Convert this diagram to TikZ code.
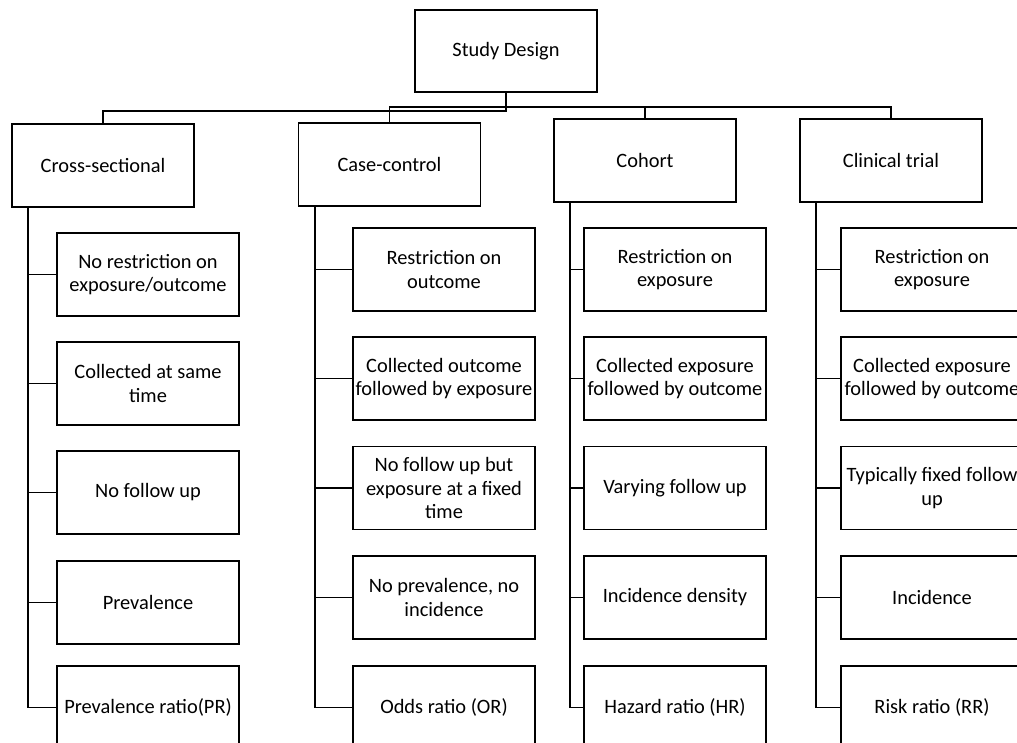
\documentclass[tikz,border=0pt]{standalone}
\usepackage{fontspec}
\setmainfont{Carlito}
\usepackage{tikz}
\usetikzlibrary{positioning}
\tikzstyle{designbox} = [rectangle, draw=black, line width=1.8pt, minimum width=182pt, minimum height=83pt, inner sep=0pt, text centered, align=center, font=\fontsize{20.4}{23.5}\selectfont]
\tikzstyle{link} = [line width=1.8pt, color=black]

\begin{document}
\begin{tikzpicture}[x=1pt, y=-1pt]
    \path[use as bounding box] (0,0) rectangle (1017,742);
    \clip (0,0) rectangle (1017,742);

    % Root
    \node[designbox, minimum height=82pt] (root) at (506,51) {Study Design};

    % Study designs
    \node[designbox] (cs) at (103,165.5) {Cross-sectional};
    \node[designbox] (cc) at (389.5,164.5) {Case-control};
    \node[designbox] (co) at (645,160.5) {Cohort};
    \node[designbox] (ct) at (891,160.5) {Clinical trial};

    % Links to designs
    \draw[link] (root.south) -- ++(0,18) -| (cs.north);
    \draw[link] (root.south) -- ++(0,14) -| (cc.north);
    \draw[link] (root.south) -- ++(0,14) -| (co.north);
    \draw[link] (root.south) -- ++(0,14) -| (ct.north);

    % Cross-sectional
    \node[designbox] (cs1) at (148,274.5) {No restriction on\\exposure/outcome};
    \node[designbox] (cs2) at (148,383.5) {Collected at same\\time};
    \node[designbox] (cs3) at (148,492.5) {No follow up};
    \node[designbox] (cs4) at (148,602.5) {Prevalence};
    \node[designbox] (cs5) at (148,707.5) {Prevalence ratio(PR)};

    % Case-control
    \node[designbox] (cc1) at (444,269.5) {Restriction on\\outcome};
    \node[designbox] (cc2) at (444,378.5) {Collected outcome\\followed by exposure};
    \node[designbox] (cc3) at (444,488) {No follow up but\\exposure at a fixed\\time};
    \node[designbox] (cc4) at (444,597.5) {No prevalence, no\\incidence};
    \node[designbox] (cc5) at (444,707.5) {Odds ratio (OR)};

    % Cohort
    \node[designbox] (co1) at (675,269.5) {Restriction on\\exposure};
    \node[designbox] (co2) at (675,378.5) {Collected exposure\\followed by outcome};
    \node[designbox] (co3) at (675,488) {Varying follow up};
    \node[designbox] (co4) at (675,597.5) {Incidence density};
    \node[designbox] (co5) at (675,707.5) {Hazard ratio (HR)};

    % Clinical trial
    \node[designbox] (ct1) at (932,269.5) {Restriction on\\exposure};
    \node[designbox] (ct2) at (932,378.5) {Collected exposure\\followed by outcome};
    \node[designbox] (ct3) at (932,488) {Typically fixed follow\\up};
    \node[designbox] (ct4) at (932,597.5) {Incidence};
    \node[designbox] (ct5) at (932,707.5) {Risk ratio (RR)};

    % Links to features
    \foreach \d in {cs,cc,co,ct}
        \foreach \i in {1,...,5}
            \draw[link] (\d.south west) ++(17,0) |- (\d\i.west);
\end{tikzpicture}
\end{document}
